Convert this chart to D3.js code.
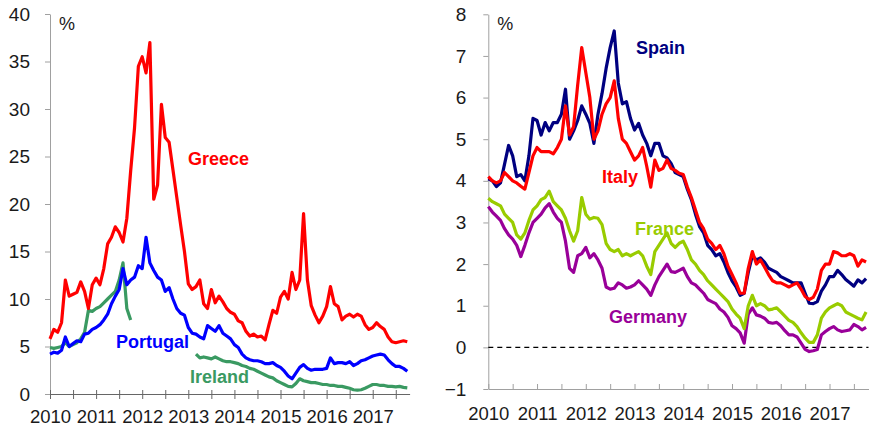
<!DOCTYPE html>
<html>
<head>
<meta charset="utf-8">
<script src="https://cdn.jsdelivr.net/npm/d3@7"></script>
<style>
  body { margin: 0; background: #fff; }
  svg { font-family: "Liberation Sans", Arial, sans-serif; }
</style>
</head>
<body>
<div id="chart"></div>
<script>
// monthly observations, Jan 2010 .. Oct 2017
const months = d3.range(94).map(m => 2010 + m / 12);

// left panel, 10-year yields (%)
const greece = [5.8,6.8,6.5,7.5,12.0,10.3,10.5,10.7,11.8,10.8,9.0,11.5,
  12.2,11.5,13.2,15.8,16.5,17.6,17.0,16.0,18.5,23.5,28.0,34.5,
  35.5,33.8,37.0,20.5,22.0,30.5,27.0,26.5,23.6,20.7,17.8,15.0,
  11.6,11.0,11.3,12.0,9.5,9.0,11.0,9.6,10.3,9.7,9.0,8.6,
  8.4,7.7,7.5,6.6,6.1,6.3,6.0,6.1,5.7,7.3,8.8,8.5,
  10.2,10.8,10.0,12.8,11.0,12.0,19.0,12.0,9.3,8.3,7.5,8.2,
  9.2,11.3,9.5,9.2,7.8,8.2,8.4,8.1,8.4,8.2,7.3,6.8,
  7.0,7.5,7.1,6.8,6.0,5.5,5.4,5.5,5.6,5.5];
const portugal = [4.2,4.4,4.3,4.6,6.0,5.0,5.3,5.6,5.5,6.3,6.4,6.8,
  7.0,7.3,7.8,8.4,9.5,10.3,11.0,13.2,11.5,12.0,12.3,13.5,
  13.2,16.5,13.8,13.0,12.3,12.0,10.8,11.2,10.0,9.0,8.5,8.3,
  7.0,6.4,6.3,6.0,5.8,7.2,6.9,6.6,7.2,6.4,6.1,5.8,
  5.2,4.9,4.2,3.8,3.6,3.5,3.5,3.4,3.2,3.2,3.3,3.0,
  2.8,2.4,1.9,1.6,2.2,2.8,3.1,2.7,2.5,2.6,2.6,2.6,
  2.7,3.8,3.2,3.3,3.3,3.2,3.4,3.0,3.2,3.5,3.6,3.8,
  4.0,4.1,4.2,4.1,3.6,3.2,2.9,2.9,2.7,2.4];
const ireland = [4.9,4.8,4.9,5.0,5.4,5.0,5.2,5.4,5.8,6.5,8.8,8.7,
  9.0,9.2,9.6,10.0,10.4,10.8,12.0,13.8,9.0,7.8,null,null,
  null,null,null,null,null,null,null,null,null,null,null,null,
  null,null,4.2,3.8,3.9,3.8,3.7,3.9,3.7,3.5,3.4,3.4,
  3.3,3.2,3.0,2.9,2.7,2.6,2.4,2.2,2.0,1.8,1.7,1.4,
  1.2,1.0,0.8,0.75,1.1,1.6,1.4,1.3,1.2,1.2,1.1,1.0,
  1.0,0.9,0.9,0.8,0.8,0.7,0.6,0.45,0.4,0.45,0.6,0.8,
  1.0,1.0,0.9,0.9,0.8,0.8,0.75,0.8,0.7,0.65];

// right panel
const spain = [4.05,4.0,3.86,3.95,4.4,4.85,4.6,4.1,4.15,4.0,4.6,5.5,
  5.45,5.1,5.4,5.2,5.4,5.4,5.6,6.2,5.0,5.2,5.45,5.8,
  5.6,5.38,4.9,5.6,6.1,6.7,7.2,7.6,6.35,5.85,5.9,5.5,
  5.22,5.38,5.1,4.9,4.6,4.9,4.9,4.6,4.55,4.42,4.2,4.15,
  4.1,3.8,3.55,3.2,2.9,2.75,2.45,2.35,2.2,2.25,2.05,1.8,
  1.6,1.45,1.25,1.3,1.8,2.2,2.1,2.15,2.05,1.9,1.85,1.8,
  1.7,1.65,1.6,1.55,1.55,1.55,1.3,1.06,1.05,1.1,1.35,1.5,
  1.7,1.7,1.85,1.75,1.63,1.55,1.47,1.62,1.55,1.65];
const italy = [4.1,4.0,3.95,4.0,4.2,4.1,4.0,3.95,3.87,3.8,4.2,4.6,
  4.8,4.7,4.7,4.7,4.65,4.8,5.0,5.8,5.1,5.3,6.3,7.2,
  6.6,6.0,5.0,5.2,5.6,5.85,6.0,6.4,5.5,5.0,4.9,4.7,
  4.5,4.6,4.8,4.35,3.85,4.5,4.25,4.3,4.5,4.3,4.25,4.18,
  4.15,3.85,3.6,3.3,3.0,2.85,2.6,2.5,2.35,2.45,2.25,1.95,
  1.75,1.55,1.3,1.3,1.9,2.3,2.0,2.1,1.93,1.75,1.6,1.55,
  1.55,1.5,1.45,1.5,1.55,1.4,1.22,1.15,1.2,1.4,1.85,2.0,
  2.0,2.3,2.27,2.2,2.2,2.25,2.2,1.95,2.1,2.05];
const france = [3.58,3.5,3.45,3.4,3.2,3.1,3.0,2.7,2.6,2.75,3.05,3.3,
  3.4,3.55,3.6,3.75,3.5,3.4,3.3,3.1,2.8,2.55,2.8,3.6,
  3.2,3.08,3.12,3.1,2.95,2.5,2.35,2.3,2.35,2.2,2.25,2.2,
  2.25,2.3,2.2,1.95,1.75,2.3,2.45,2.6,2.75,2.5,2.4,2.5,
  2.55,2.35,2.1,2.0,1.85,1.75,1.6,1.5,1.4,1.3,1.2,1.1,
  0.92,0.8,0.7,0.45,1.0,1.25,1.0,1.05,1.0,0.9,0.92,0.95,
  0.85,0.75,0.65,0.6,0.5,0.35,0.22,0.12,0.12,0.3,0.7,0.85,
  0.95,1.0,1.05,1.0,0.85,0.8,0.75,0.7,0.66,0.85];
const germany = [3.38,3.25,3.15,3.05,2.85,2.7,2.6,2.45,2.18,2.45,2.75,3.0,
  3.1,3.2,3.35,3.45,3.25,3.1,3.0,2.55,1.9,1.8,2.2,2.25,
  2.4,2.15,2.25,2.1,1.9,1.45,1.4,1.42,1.55,1.5,1.42,1.45,
  1.5,1.6,1.5,1.4,1.25,1.5,1.7,1.85,2.0,1.82,1.8,1.85,
  1.9,1.7,1.55,1.5,1.4,1.3,1.15,1.1,1.05,0.92,0.85,0.72,
  0.52,0.45,0.35,0.1,0.8,0.95,0.78,0.75,0.7,0.6,0.58,0.6,
  0.52,0.4,0.3,0.3,0.25,0.1,-0.05,-0.1,-0.08,-0.05,0.3,0.38,
  0.45,0.5,0.42,0.38,0.4,0.42,0.55,0.5,0.42,0.48];

const yearTicks = d3.range(2010, 2017.9, 0.5);
const leftYTicks = d3.range(0, 41, 5);
const rightYTicks = d3.range(-1, 9, 1);

const svg = d3.select('#chart')
  .append('svg')
    .attr('width', 872)
    .attr('height', 430);

function drawPanel(opts) {
  const x = d3.scaleLinear().domain([2010, 2017.8]).range(opts.xRange);
  const y = d3.scaleLinear().domain(opts.yDomain).range(opts.yRange);
  const g = svg.append('g');

  // y axis
  const ya = g.append('g')
    .attr('transform', `translate(${opts.xRange[0]},0)`)
    .call(d3.axisLeft(y).tickValues(opts.yTicks).tickSize(5)
      .tickPadding(opts.yPad).tickSizeOuter(0));
  ya.select('.domain').attr('stroke', '#a0a0a0');
  ya.selectAll('.tick line').attr('stroke', '#a0a0a0');
  ya.selectAll('.tick text').attr('font-size', 19).attr('fill', '#1a1a1a');

  // x axis
  const xa = g.append('g')
    .attr('transform', `translate(0,${opts.yRange[0]})`)
    .call(d3.axisBottom(x).tickValues(yearTicks)
      .tickFormat(d => Number.isInteger(d) ? d : '')
      .tickSize(5).tickPadding(opts.xPad).tickSizeOuter(0));
  xa.select('.domain').attr('stroke', opts.xAxisColor);
  xa.selectAll('.tick line')
    .attr('stroke', opts.xAxisColor)
    .attr('y1', opts.tickUp ? -5 : -4)
    .attr('y2', opts.tickUp ? 0 : 5);
  xa.selectAll('.tick text').attr('font-size', 18.5).attr('fill', '#1a1a1a');

  // percent sign
  g.append('text')
    .attr('x', opts.xRange[0] + 9)
    .attr('y', 30)
    .attr('font-size', 18)
    .attr('fill', '#1a1a1a')
    .text('%');

  if (opts.zeroLine) {
    g.append('line')
      .attr('x1', x(2010)).attr('x2', opts.xRange[1])
      .attr('y1', y(0)).attr('y2', y(0))
      .attr('stroke', '#000')
      .attr('stroke-width', 1.3)
      .attr('stroke-dasharray', '5,4');
  }

  const line = d3.line()
    .defined(d => d[1] !== null)
    .x(d => x(d[0]))
    .y(d => y(d[1]));

  opts.series.forEach(s => {
    g.append('path')
      .datum(months.map((m, i) => [m, s.values[i]]))
      .attr('fill', 'none')
      .attr('stroke', s.color)
      .attr('stroke-width', 3.2)
      .attr('stroke-linejoin', 'round')
      .attr('d', line);
  });

  opts.series.forEach(s => {
    g.append('text')
      .attr('x', s.lx)
      .attr('y', s.ly)
      .attr('font-size', 18)
      .attr('font-weight', 'bold')
      .attr('fill', s.color)
      .text(s.name);
  });
}

drawPanel({
  xRange: [50, 409.6], yDomain: [0, 40], yRange: [394, 14],
  yTicks: leftYTicks, yPad: 15, xPad: 11, xAxisColor: '#666', tickUp: false,
  series: [
    {name: 'Ireland', values: ireland, color: '#3a9a62', lx: 190, ly: 383},
    {name: 'Portugal', values: portugal, color: '#0000ff', lx: 116, ly: 348},
    {name: 'Greece', values: greece, color: '#ff0000', lx: 188, ly: 165}
  ]
});

drawPanel({
  xRange: [488.3, 868.5], yDomain: [-1, 8], yRange: [389, 14.3],
  yTicks: rightYTicks, yPad: 17, xPad: 13, xAxisColor: '#a0a0a0', tickUp: true,
  zeroLine: true,
  series: [
    {name: 'Germany', values: germany, color: '#990099', lx: 609, ly: 323},
    {name: 'France', values: france, color: '#99cc00', lx: 635, ly: 235},
    {name: 'Spain', values: spain, color: '#000080', lx: 636, ly: 54},
    {name: 'Italy', values: italy, color: '#ff0000', lx: 602, ly: 183}
  ]
});
</script>
</body>
</html>
